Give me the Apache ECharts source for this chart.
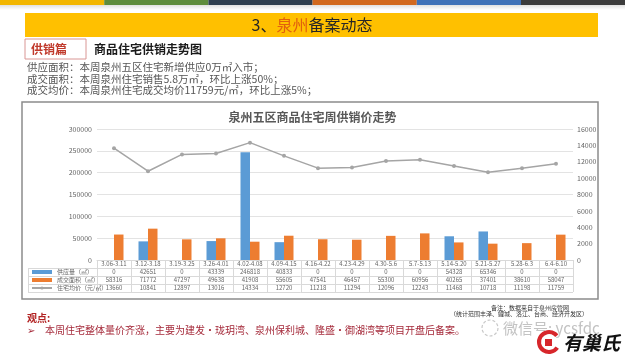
<!DOCTYPE html>
<html>
<head>
<meta charset="utf-8">
<script src="https://cdn.jsdelivr.net/npm/echarts@6/dist/echarts.min.js"></script>
<style>
  html, body { margin: 0; padding: 0; background: #fff; }
  #main { width: 625px; height: 359px; }
</style>
</head>
<body>
<div id="main"></div>
<script>
// 周次
var weeks = ['3.06-3.11', '3.12-3.18', '3.19-3.25', '3.26-4.01', '4.02-4.08', '4.09-4.15', '4.16-4.22',
    '4.23-4.29', '4.30-5.6', '5.7-5.13', '5.14-5.20', '5.21-5.27', '5.28-6.3', '6.4-6.10'];
// 供应量（㎡）
var supply = [0, 42651, 0, 43339, 246818, 40833, 0, 0, 0, 0, 54328, 65346, 0, 0];
// 成交面积（㎡）
var deal = [58316, 71772, 47297, 49638, 41908, 55605, 47541, 46457, 55300, 60956, 40265, 37401, 38610, 58047];
// 住宅均价（元/㎡）
var price = [13660, 10841, 12897, 13016, 14334, 12720, 11218, 11294, 12096, 12243, 11468, 10718, 11198, 11759];

var leftTicks = { min: 0, max: 300000, interval: 50000 };
var rightTicks = { min: 0, max: 16000, interval: 2000 };

var names = ['供应量（㎡）', '成交面积（㎡）', '住宅均价（元/㎡）'];
var cBlue = '#5b9bd5', cOrange = '#ed7d31', cGray = '#a5a5a5';
var font = '"Noto Sans CJK SC", "Noto Sans", sans-serif';

var myChart = echarts.init(document.getElementById('main'));

// 表格的横线
var tableLines = [];
[268, 276, 284, 292].forEach(function (y) {
    tableLines.push({ type: 'line', shape: { x1: 28, y1: y + 0.5, x2: 573, y2: y + 0.5 }, style: { stroke: '#d9d9d9', lineWidth: 1 }, silent: true });
});
tableLines.push({ type: 'line', shape: { x1: 28.5, y1: 268, x2: 28.5, y2: 292 }, style: { stroke: '#d9d9d9', lineWidth: 1 }, silent: true });

// 顶部色条
var stripeColors = ['#f2b600', '#5e8c3c', '#2f3f50', '#d2691e', '#3f72b8', '#3b3b3b'];
var stripes = stripeColors.map(function (c, i) {
    return { type: 'rect', shape: { x: i * 104.2, y: 0, width: 104.2, height: 5 }, style: { fill: c }, silent: true };
});

function valueAxis(vals, off) {
    return {
        type: 'category', gridIndex: 0, position: 'bottom', offset: off,
        data: vals.map(String),
        axisLine: { show: false }, axisTick: { show: false },
        axisLabel: { interval: 0, fontSize: 6, color: '#666', margin: 0, lineHeight: 8, fontFamily: font }
    };
}

var option = {
    backgroundColor: '#fff',
    animation: false,
    textStyle: { fontFamily: font },
    title: {
        text: '泉州五区商品住宅周供销价走势',
        left: 'center', top: 106,
        textStyle: { fontSize: 12, fontWeight: 'bold', color: '#595959' }
    },
    legend: {
        orient: 'vertical', left: 31, top: 268, padding: 0,
        itemGap: 0, itemWidth: 20, itemHeight: 4,
        textStyle: { fontSize: 6, color: '#666', lineHeight: 8 },
        data: [{ name: names[0], icon: 'rect' }, { name: names[1], icon: 'rect' }, { name: names[2] }]
    },
    grid: { left: 97, right: 52, top: 129, bottom: 99 },
    xAxis: [
        {
            type: 'category', data: weeks,
            axisLine: { lineStyle: { color: '#d9d9d9' } },
            axisTick: { show: true, length: 32, interval: 0, lineStyle: { color: '#d9d9d9' } },
            axisLabel: { interval: 0, fontSize: 6, color: '#666', margin: 0, lineHeight: 8 }
        },
        valueAxis(supply, 8),
        valueAxis(deal, 16),
        valueAxis(price, 24)
    ],
    yAxis: [
        {
            type: 'value', min: leftTicks.min, max: leftTicks.max, interval: leftTicks.interval,
            axisLine: { show: false }, axisTick: { show: false },
            axisLabel: { fontSize: 7, color: '#666', margin: 5, formatter: function (v) { return String(v); } },
            splitLine: { lineStyle: { color: '#e3e3e3' } }
        },
        {
            type: 'value', position: 'right', min: rightTicks.min, max: rightTicks.max, interval: rightTicks.interval,
            axisLine: { show: false }, axisTick: { show: false },
            axisLabel: { fontSize: 7, color: '#666', margin: 4, formatter: function (v) { return String(v); } },
            splitLine: { show: false }
        }
    ],
    series: [
        { name: names[0], type: 'bar', data: supply, barWidth: 9.5, barGap: '0%', itemStyle: { color: cBlue } },
        { name: names[1], type: 'bar', data: deal, barWidth: 9.5, barGap: '0%', itemStyle: { color: cOrange } },
        {
            name: names[2], type: 'line', yAxisIndex: 1, data: price,
            symbol: 'circle', symbolSize: 4,
            itemStyle: { color: cGray }, lineStyle: { color: cGray, width: 1.5 }
        }
    ],
    graphic: stripes.concat(tableLines, [
        { type: 'rect', shape: { x: 0, y: 5, width: 625, height: 5 }, silent: true,
          style: { fill: new echarts.graphic.LinearGradient(0, 0, 0, 1, [{ offset: 0, color: 'rgba(0,0,0,0.12)' }, { offset: 1, color: 'rgba(0,0,0,0)' }]) } },
        // 标题栏
        { type: 'rect', shape: { x: 25, y: 13, width: 573, height: 24 }, style: { fill: '#ffc000' }, silent: true },
        { type: 'text', x: 312, y: 25, style: {
            text: '{a|3、}{b|泉州}{a|备案动态}', align: 'center', verticalAlign: 'middle',
            rich: { a: { fontSize: 16, fill: '#262626', fontFamily: font }, b: { fontSize: 16, fill: '#e2600d', fontFamily: font } } } },
        // 供销篇
        { type: 'rect', shape: { x: 25, y: 39, width: 61, height: 20 }, style: { fill: '#fff', stroke: '#d99694', lineWidth: 1 }, silent: true },
        { type: 'text', x: 31, y: 49, style: { text: '供销篇', fontSize: 12, fontWeight: 'bold', fill: '#c0392b', verticalAlign: 'middle', fontFamily: font } },
        { type: 'text', x: 94, y: 49, style: { text: '商品住宅供销走势图', fontSize: 12, fontWeight: 'bold', fill: '#1a1a1a', verticalAlign: 'middle', fontFamily: font } },
        { type: 'text', x: 27, y: 67, style: { text: '供应面积：本周泉州五区住宅新增供应0万㎡入市；', fontSize: 10.5, fill: '#555', verticalAlign: 'middle', fontFamily: font } },
        { type: 'text', x: 27, y: 79, style: { text: '成交面积：本周泉州住宅销售5.8万㎡，环比上涨50%；', fontSize: 10.5, fill: '#555', verticalAlign: 'middle', fontFamily: font } },
        { type: 'text', x: 27, y: 90, style: { text: '成交均价：本周泉州住宅成交均价11759元/㎡，环比上涨5%；', fontSize: 10.5, fill: '#555', verticalAlign: 'middle', fontFamily: font } },
        // 图表外框
        { type: 'rect', z: -10, shape: { x: 22, y: 102, width: 576, height: 197 }, style: { fill: '#fff', stroke: '#8c8c8c', lineWidth: 1.5 }, silent: true },
        // 备注
        { type: 'text', x: 530, y: 308, style: { text: '备注：数据来自于泉州房管网', fontSize: 6, fill: '#333', align: 'center', verticalAlign: 'middle', fontFamily: font } },
        { type: 'text', x: 519, y: 313.5, style: { text: '（统计范围丰泽、鲤城、洛江、台商、经济开发区）', fontSize: 6, fill: '#333', align: 'center', verticalAlign: 'middle', fontFamily: font } },
        // 观点
        { type: 'text', x: 27, y: 318, style: { text: '观点:', fontSize: 10, fontWeight: 'bold', fill: '#b22222', verticalAlign: 'middle', fontFamily: font } },
        { type: 'text', x: 27, y: 330, style: { text: '➢', fontSize: 10, fill: '#a52a3a', verticalAlign: 'middle', fontFamily: font } },
        { type: 'text', x: 45, y: 330, style: { text: '本周住宅整体量价齐涨，主要为建发·珑玥湾、泉州保利城、隆盛·御湖湾等项目开盘后备案。', fontSize: 10, fill: '#a52a3a', verticalAlign: 'middle', fontFamily: font } },
        // 水印
        { type: 'circle', shape: { cx: 490, cy: 328, r: 8 }, style: { fill: 'none', stroke: '#c8c8c8', lineWidth: 1.2, lineDash: [3, 2] }, silent: true },
        { type: 'text', x: 503, y: 328, style: { text: '微信号: ycsfdc', fontSize: 15, fill: '#c3c3c3', verticalAlign: 'middle', fontFamily: font } },
        // 标志
        { type: 'arc', shape: { cx: 549, cy: 342, r: 10, startAngle: 0.6, endAngle: 5.6 }, style: { stroke: '#d7262b', lineWidth: 4, fill: 'none' }, silent: true },
        { type: 'rect', shape: { x: 545, y: 339, width: 7, height: 7 }, style: { fill: '#d7262b' }, silent: true },
        { type: 'text', x: 563, y: 343, style: { text: '有巢氏', fontSize: 19, fontWeight: 'bold', fontStyle: 'italic', fill: '#111', verticalAlign: 'middle', fontFamily: font } }
    ])
};
myChart.setOption(option);
</script>
</body>
</html>
